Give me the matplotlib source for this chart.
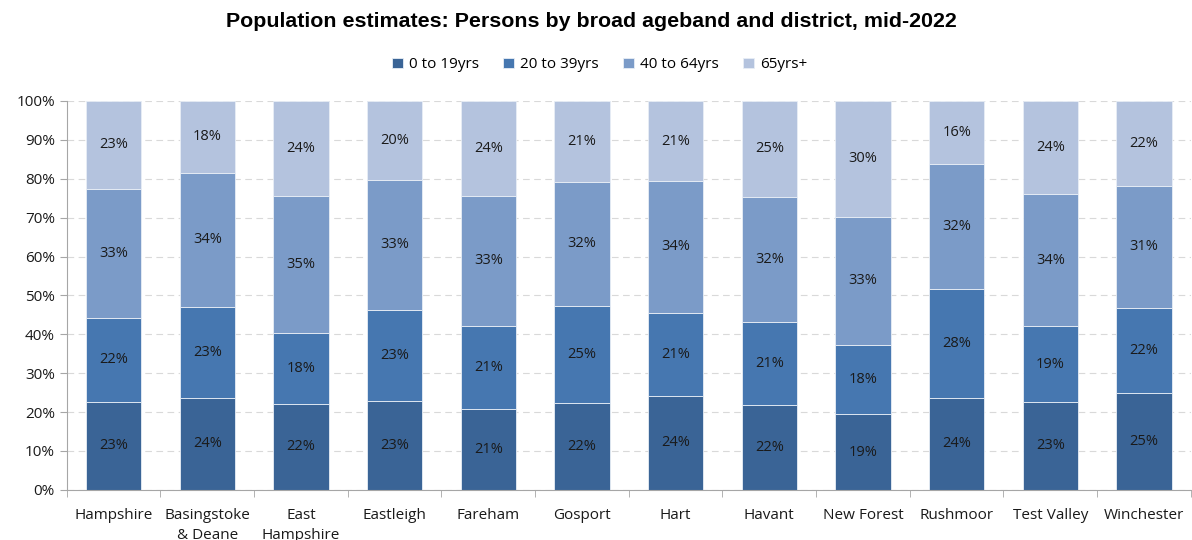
import numpy as np
import matplotlib

matplotlib.use("Agg")
import matplotlib.pyplot as plt
from matplotlib.ticker import MultipleLocator, FuncFormatter

districts = ["Hampshire", "Basingstoke\n& Deane", "East\nHampshire", "Eastleigh",
             "Fareham", "Gosport", "Hart", "Havant", "New Forest", "Rushmoor",
             "Test Valley", "Winchester"]
bands = ["0 to 19yrs", "20 to 39yrs", "40 to 64yrs", "65yrs+"]

# share of population (%) per ageband
age_0_19 = [22.6, 23.7, 22.1, 22.9, 20.8, 22.4, 24.2, 21.9, 19.4, 23.7, 22.6, 24.9]
age_20_39 = [21.6, 23.4, 18.3, 23.4, 21.4, 24.9, 21.3, 21.3, 17.9, 28.0, 19.4, 21.9]
age_40_64 = [33.2, 34.4, 35.2, 33.4, 33.4, 31.9, 33.9, 32.2, 32.9, 32.1, 34.1, 31.4]
age_65_plus = [22.6, 18.5, 24.4, 20.3, 24.4, 20.8, 20.6, 24.6, 29.8, 16.2, 23.9, 21.8]

colors = ["#3A6496", "#4677B0", "#7B9BC8", "#B4C3DE"]

plt.rcParams["font.family"] = ["Open Sans", "DejaVu Sans"]

fig = plt.figure(figsize=(11.92, 5.4), dpi=100)
ax = fig.add_axes([0.056, 0.093, 0.943, 0.72])

x = np.arange(len(districts))
bottom = np.zeros(len(districts))
for vals, name, col in zip([age_0_19, age_20_39, age_40_64, age_65_plus], bands, colors):
    vals = np.array(vals)
    ax.bar(x, vals, 0.59, bottom=bottom, color=col, label=name,
           edgecolor="#E8EEF6", linewidth=0.6, zorder=2)
    for xi, b, v in zip(x, bottom, vals):
        ax.text(xi, b + v / 2, f"{v:.0f}%", ha="center", va="center",
                fontsize=10.5, color="#1a1a1a", zorder=3)
    bottom += vals

ax.set_xlim(-0.5, len(districts) - 0.5)
ax.set_ylim(0, 100)
ax.yaxis.set_major_locator(MultipleLocator(10))
ax.yaxis.set_major_formatter(FuncFormatter(lambda v, _: f"{v:.0f}%"))
ax.grid(axis="y", color="#D9D9D9", linestyle=(0, (6, 4)), linewidth=0.8, zorder=0)

# two-line names run past the bottom edge, as in the source image
ax.set_xticks(x)
ax.set_xticklabels(districts, fontsize=11, color="#1a1a1a", linespacing=1.45)
ax.set_xticks(np.arange(-0.5, len(districts)), minor=True)
ax.tick_params(axis="x", which="major", length=0, pad=13)
ax.tick_params(axis="x", which="minor", length=5, color="#A6A6A6")
ax.tick_params(axis="y", length=5, color="#A6A6A6", labelsize=11, labelcolor="#1a1a1a")

for side in ["top", "right"]:
    ax.spines[side].set_visible(False)
for side in ["left", "bottom"]:
    ax.spines[side].set_color("#A6A6A6")

fig.text(0.496, 0.96, "Population estimates: Persons by broad ageband and district, mid-2022",
         ha="center", va="center", fontsize=15.4, fontweight="bold",
         family=["Liberation Sans", "DejaVu Sans"])
fig.legend(loc="center", bbox_to_anchor=(0.503, 0.88), ncol=4, frameon=False,
           fontsize=11, handlelength=0.7, handleheight=0.7, handletextpad=0.4,
           columnspacing=1.6)

fig.savefig("out.png", dpi=100)
